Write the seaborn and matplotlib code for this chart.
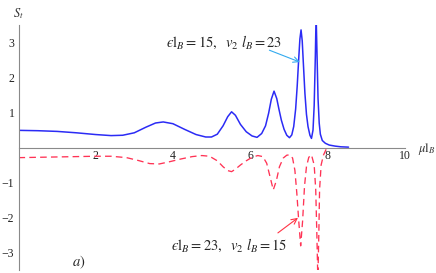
import matplotlib
matplotlib.use("Agg")
import matplotlib.pyplot as plt
import seaborn as sns
import pandas as pd
from matplotlib.ticker import FixedLocator, MultipleLocator

# values
blue_x = [0.0, 0.5, 1.0, 1.5, 2.0, 2.4, 2.7, 3.0, 3.3, 3.55, 3.75, 4.0, 4.3, 4.6, 4.85,
          5.0, 5.15, 5.3, 5.42, 5.52, 5.62, 5.75, 5.9, 6.05, 6.18, 6.3, 6.4, 6.48, 6.55,
          6.62, 6.69, 6.75, 6.81, 6.88, 6.95, 7.02, 7.08, 7.13, 7.18, 7.22, 7.26, 7.29,
          7.32, 7.35, 7.38, 7.42, 7.46, 7.5, 7.55, 7.59, 7.63, 7.66, 7.69, 7.71, 7.735,
          7.76, 7.79, 7.82, 7.87, 7.95, 8.05, 8.2, 8.35, 8.55]
blue_y = [0.49, 0.48, 0.46, 0.42, 0.37, 0.34, 0.35, 0.42, 0.58, 0.70, 0.73, 0.68, 0.52,
          0.37, 0.30, 0.30, 0.38, 0.62, 0.88, 1.02, 0.92, 0.66, 0.45, 0.33, 0.29, 0.40,
          0.62, 0.98, 1.38, 1.61, 1.40, 1.08, 0.78, 0.52, 0.35, 0.28, 0.36, 0.60, 1.10,
          1.75, 2.55, 3.10, 3.36, 3.05, 2.40, 1.55, 0.95, 0.60, 0.35, 0.26, 0.50, 1.20,
          2.60, 3.80, 2.60, 1.40, 0.70, 0.38, 0.20, 0.12, 0.07, 0.04, 0.02, 0.01]

red_x = [0.0, 0.5, 1.0, 1.5, 2.0, 2.4, 2.8, 3.1, 3.4, 3.65, 3.9, 4.2, 4.5, 4.75, 4.95,
         5.15, 5.3, 5.42, 5.52, 5.62, 5.75, 5.9, 6.05, 6.2, 6.33, 6.43, 6.52, 6.6, 6.68,
         6.76, 6.86, 6.95, 7.02, 7.1, 7.16, 7.21, 7.26, 7.31, 7.36, 7.41, 7.46, 7.52,
         7.59, 7.66, 7.70, 7.73, 7.755, 7.78, 7.80, 7.84, 7.9, 7.97, 8.02]
red_y = [-0.29, -0.28, -0.27, -0.26, -0.25, -0.25, -0.29, -0.37, -0.46, -0.47, -0.41,
         -0.33, -0.26, -0.23, -0.25, -0.38, -0.55, -0.66, -0.69, -0.62, -0.50, -0.38,
         -0.28, -0.23, -0.26, -0.45, -0.85, -1.21, -0.95, -0.55, -0.30, -0.22, -0.21,
         -0.30, -0.65, -1.30, -2.10, -2.81, -2.10, -1.10, -0.55, -0.28, -0.21, -0.50,
         -1.20, -2.50, -3.80, -2.50, -1.20, -0.50, -0.22, -0.05, 0.0]

x_ticks = [2, 4, 6, 8, 10]
y_ticks = [-3, -2, -1, 1, 2, 3]
y_tick_labels = ["\u22123", "\u22122", "\u22121", "1", "2", "3"]

label_blue = "$\u03f5\\mathrm{l}_B = 15,\\ \\ v_2\\ l_B = 23$"
label_red = "$\u03f5\\mathrm{l}_B = 23,\\ \\ v_2\\ l_B = 15$"

blue_df = pd.DataFrame({"mu": blue_x, "S": blue_y})
red_df = pd.DataFrame({"mu": red_x, "S": red_y})

sns.set_style("white")
plt.rcParams["font.family"] = ["Liberation Serif", "DejaVu Serif"]
plt.rcParams["mathtext.fontset"] = "stix"

fig = plt.figure(figsize=(4.36, 2.73), dpi=100)
ax = fig.add_axes([18.5 / 436, 3 / 273, 386 / 436, 245 / 273])

sns.lineplot(data=blue_df, x="mu", y="S", ax=ax, color="#2b2bf5", lw=1.1, sort=False)
sns.lineplot(data=red_df, x="mu", y="S", ax=ax, color="#ff3355", lw=0.95,
             linestyle=(0, (5, 3.2)), sort=False)

ax.set_xlim(0, 10)
ax.set_ylim(-3.5, 3.5)
ax.set_xlabel("")
ax.set_ylabel("")

# mathematica style axes through the origin
for s in ["top", "right"]:
    ax.spines[s].set_visible(False)
ax.spines["bottom"].set_position(("data", 0))
ax.spines["left"].set_position(("data", 0))
for s in ["bottom", "left"]:
    ax.spines[s].set_color("#8a8a8a")
    ax.spines[s].set_linewidth(0.8)

ax.xaxis.set_major_locator(FixedLocator(x_ticks))
ax.xaxis.set_minor_locator(MultipleLocator(0.5))
ax.yaxis.set_major_locator(FixedLocator(y_ticks))
ax.set_yticklabels(y_tick_labels)
ax.yaxis.set_minor_locator(MultipleLocator(0.2))
ax.tick_params(which="both", direction="in", color="#8a8a8a", width=0.7,
               labelsize=8.5, labelcolor="#222222")
ax.tick_params(which="major", length=3, pad=2)
ax.tick_params(which="minor", length=1.8)
ax.tick_params(axis="y", which="major", pad=3)

ax.text(0.0, 3.82, r"$S_t$", fontsize=9, ha="center", va="center", color="#333333")
ax.text(10.35, -0.05, r"$\mu\mathrm{l}_B$", fontsize=9, ha="left", va="center",
        color="#333333", clip_on=False)

ax.text(5.32, 3.0, label_blue, fontsize=10.5, ha="center", va="center")
ax.annotate("", xy=(7.29, 2.44), xytext=(6.5, 2.78),
            arrowprops=dict(arrowstyle="->", color="#33aaee", lw=0.8,
                            shrinkA=0, shrinkB=0))
ax.text(5.45, -2.8, label_red, fontsize=10.5, ha="center", va="center")
ax.annotate("", xy=(7.24, -2.01), xytext=(6.72, -2.44),
            arrowprops=dict(arrowstyle="->", color="#ff3344", lw=0.8,
                            shrinkA=0, shrinkB=0))

ax.text(1.57, -3.27, r"$a)$", fontsize=10.5, ha="center", va="center")

fig.savefig("out.png", dpi=100)
